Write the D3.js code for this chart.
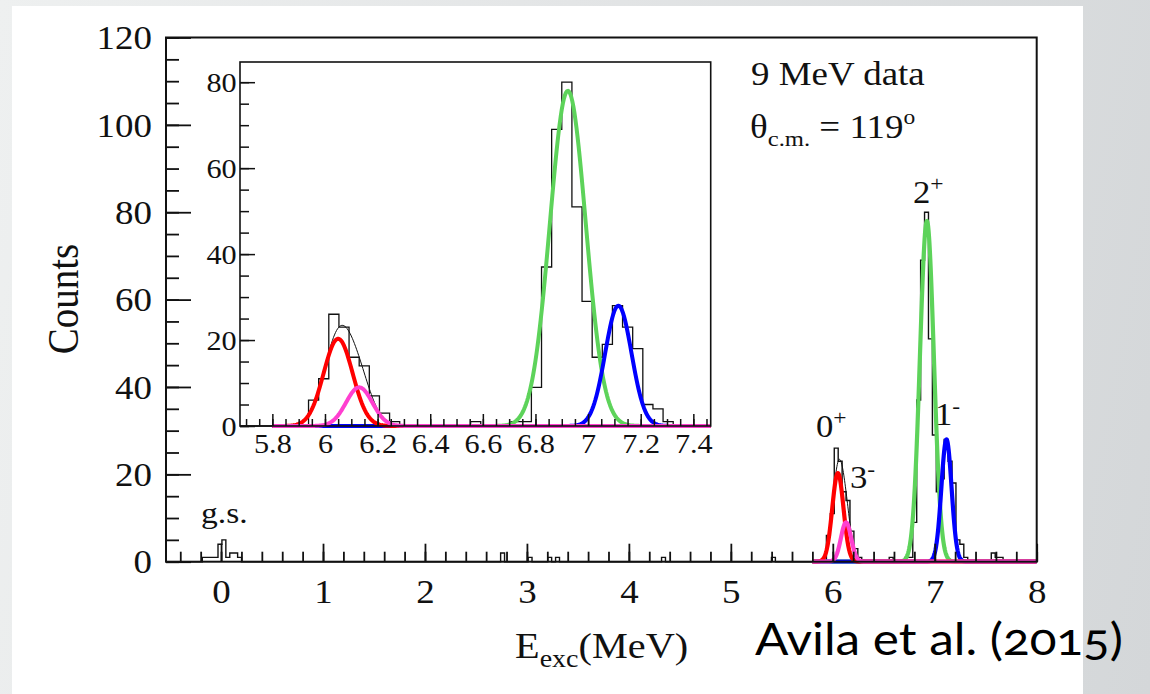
<!DOCTYPE html>
<html>
<head>
<meta charset="utf-8">
<script src="https://cdn.jsdelivr.net/npm/d3@7"></script>
<style>
html, body { margin: 0; padding: 0; }
body {
  width: 1150px; height: 694px; overflow: hidden;
  background: linear-gradient(100deg, #eef0f0 0%, #e3e5e6 45%, #d4d7d9 100%);
}
svg { position: absolute; left: 0; top: 0; }
</style>
</head>
<body>
<svg id="chart" width="1150" height="694"></svg>
<script>
// histogram: bin width and edge reference (MeV)
var binWidth = 0.0385;
var binRef = 6.9;

// contiguous bins in the 0+ / 3- / 2+ / 1- region, first low edge 5.899
var denseStart = 5.899;
var denseCounts = [0, 6, 11, 26, 23, 16, 14, 7, 3, 1,
                   0, 0, 0, 0, 0, 0, 0, 1, 0, 0,
                   0, 1, 1, 9, 37, 69, 80, 51, 29, 16,
                   19, 28, 23, 18, 5, 4, 1];

// isolated background counts elsewhere in the spectrum
var sparseEnergy = [-0.17, -0.13, -0.09, -0.05, -0.01, 0.03, 0.07, 0.10, 0.14, 0.18,
                    2.76, 3.03, 3.22, 3.30, 4.34, 5.42, 7.57, 7.61, 7.65];
var sparseCounts = [1, 1, 1, 1, 4, 5, 1, 2, 2, 1,
                    2, 1, 1, 1, 1, 1, 2, 1, 1];

// fitted gaussian components
var peakLabels = ["2+", "1-", "0+", "3-"];
var peakCentre = [6.923, 7.115, 6.05, 6.13];
var peakHeight = [78, 28, 20.3, 9];
var peakSigma  = [0.068, 0.05, 0.055, 0.05];
var fitRange = [5.8, 8.0];
// summed fit drawn over the 0+ / 3- doublet
var sumLabels = ["0+", "3-"];
var sumRange = [5.8, 6.4];

// tick labels
var mainXTicks = [0, 1, 2, 3, 4, 5, 6, 7, 8];
var mainYTicks = [0, 20, 40, 60, 80, 100, 120];
var insetXTicks = [5.8, 6, 6.2, 6.4, 6.6, 6.8, 7, 7.2, 7.4];
var insetYTicks = [0, 20, 40, 60, 80];

var color = d3.scaleOrdinal()
  .domain(peakLabels)
  .range(["#5dd35a", "#0000ff", "#ff0000", "#ff3fd0"]);

var stretch = "scale(1.12,1)";
var serif = "'Liberation Serif', 'Times New Roman', serif";

var svg = d3.select("#chart");

// white slide area
svg.append("rect")
  .attr("x", 12).attr("y", 6)
  .attr("width", 1071).attr("height", 700)
  .attr("fill", "#ffffff");

// build the full binned spectrum
var nDense0 = Math.round((denseStart - binRef) / binWidth);
var countsByBin = new Map();
denseCounts.forEach((c, i) => countsByBin.set(nDense0 + i, c));
sparseEnergy.forEach((e, i) => {
  countsByBin.set(Math.floor((e - binRef) / binWidth), sparseCounts[i]);
});
var bins = d3.range(-193, 30).map(n => ({ e: binRef + n * binWidth, c: countsByBin.get(n) || 0 }));

function gauss(i, e) {
  var t = (e - peakCentre[i]) / peakSigma[i];
  return peakHeight[i] * Math.exp(-0.5 * t * t);
}
var fitE = d3.range(fitRange[0], fitRange[1] + 1e-9, 0.004);
var components = peakLabels.map((lab, i) => ({
  label: lab,
  pts: fitE.map(e => ({ e: e, c: gauss(i, e) }))
}));
var sumIdx = sumLabels.map(l => peakLabels.indexOf(l));
var totalFit = d3.range(sumRange[0], sumRange[1] + 1e-9, 0.004)
  .map(e => ({ e: e, c: d3.sum(sumIdx, i => gauss(i, e)) }));

function drawPanel(opt) {
  var x = d3.scaleLinear().domain(opt.xDomain).range([opt.left, opt.right]);
  var y = d3.scaleLinear().domain(opt.yDomain).range([opt.bottom, opt.top]);
  var g = svg.append("g");

  g.append("rect")
    .attr("x", opt.left).attr("y", opt.top)
    .attr("width", opt.right - opt.left).attr("height", opt.bottom - opt.top)
    .attr("fill", "#ffffff");

  g.append("clipPath").attr("id", opt.id + "-clip")
    .append("rect")
    .attr("x", opt.left).attr("y", opt.top - 2)
    .attr("width", opt.right - opt.left).attr("height", opt.bottom - opt.top + 4);

  var plot = g.append("g").attr("clip-path", "url(#" + opt.id + "-clip)");

  var hist = d3.line().x(d => x(d.e)).y(d => y(d.c)).curve(d3.curveStepAfter);
  plot.append("path")
    .datum(bins)
    .attr("d", hist)
    .attr("fill", "none")
    .attr("stroke", "#111")
    .attr("stroke-width", opt.histWidth);

  var curve = d3.line().x(d => x(d.e)).y(d => y(d.c));
  plot.append("path")
    .datum(totalFit)
    .attr("d", curve)
    .attr("fill", "none")
    .attr("stroke", "#111")
    .attr("stroke-width", 1);

  plot.selectAll(".comp")
    .data(components)
    .enter()
    .append("path")
    .attr("class", "comp")
    .attr("d", d => curve(d.pts))
    .attr("fill", "none")
    .attr("stroke", d => color(d.label))
    .attr("stroke-width", opt.curveWidth)
    .attr("stroke-linejoin", "round");

  // minor ticks
  var xMinor = d3.axisBottom(x)
    .tickValues(d3.range(opt.xMinor[0], opt.xDomain[1] + 1e-6, opt.xMinor[1]))
    .tickSizeInner(-opt.xTick[1]).tickSizeOuter(0).tickFormat("");
  g.append("g").attr("transform", "translate(0," + opt.bottom + ")").call(xMinor);
  var yMinor = d3.axisLeft(y)
    .tickValues(d3.range(0, opt.yDomain[1] + 1e-6, 5))
    .tickSizeInner(-opt.yTick[1]).tickSizeOuter(0).tickFormat("");
  g.append("g").attr("transform", "translate(" + opt.left + ",0)").call(yMinor);

  // major ticks + labels
  var xAxis = d3.axisBottom(x)
    .tickValues(opt.xTicks)
    .tickSizeInner(-opt.xTick[0]).tickSizeOuter(0)
    .tickFormat(d3.format("~g"));
  g.append("g").attr("transform", "translate(0," + opt.bottom + ")").call(xAxis)
    .selectAll("text")
      .attr("y", opt.xLabelY).attr("dy", null)
      .attr("transform", stretch)
      .attr("font-family", serif).attr("font-size", opt.font + "px")
      .attr("fill", "#111");
  var yAxis = d3.axisLeft(y)
    .tickValues(opt.yTicks)
    .tickSizeInner(-opt.yTick[0]).tickSizeOuter(0);
  g.append("g").attr("transform", "translate(" + opt.left + ",0)").call(yAxis)
    .selectAll("text")
      .attr("x", opt.yLabelX).attr("dy", "0.34em")
      .attr("transform", stretch)
      .attr("font-family", serif).attr("font-size", opt.font + "px")
      .attr("fill", "#111");

  g.selectAll(".domain").remove();
  g.selectAll(".tick line").attr("stroke", "#111").attr("stroke-width", opt.tickWidth);

  g.append("rect")
    .attr("x", opt.left).attr("y", opt.top)
    .attr("width", opt.right - opt.left).attr("height", opt.bottom - opt.top)
    .attr("fill", "none")
    .attr("stroke", "#111")
    .attr("stroke-width", opt.frameWidth);

  return { x: x, y: y };
}

var main = drawPanel({
  id: "main", left: 166, right: 1036.7, top: 37.5, bottom: 561.7,
  xDomain: [-0.54, 8], yDomain: [0, 120],
  xTicks: mainXTicks, yTicks: mainYTicks, xMinor: [-0.4, 0.2],
  xTick: [18, 10], yTick: [25, 13], xLabelY: 41, yLabelX: -12.5,
  font: 33, histWidth: 1.4, curveWidth: 4.2, tickWidth: 1.8, frameWidth: 2
});

var inset = drawPanel({
  id: "inset", left: 240, right: 710.7, top: 62, bottom: 426,
  xDomain: [5.677, 7.466], yDomain: [0, 84.7],
  xTicks: insetXTicks, yTicks: insetYTicks, xMinor: [5.7, 0.05],
  xTick: [12, 7], yTick: [15, 9], xLabelY: 27, yLabelX: -3,
  font: 27, histWidth: 1.3, curveWidth: 4, tickWidth: 1.5, frameWidth: 1.6
});

// text annotations
function label(xp, yp, size) {
  return svg.append("text")
    .attr("transform", "translate(" + xp + "," + yp + ") " + stretch)
    .attr("font-family", serif)
    .attr("font-size", size + "px")
    .attr("fill", "#111");
}

label(751, 85, 33).text("9 MeV data");

var th = label(750, 138, 33);
th.append("tspan").text("\u03b8");
th.append("tspan").attr("font-size", "22px").attr("dy", 8).text("c.m.");
th.append("tspan").attr("dy", -8).text(" = 119");
th.append("tspan").attr("font-size", "21px").attr("dy", -14).text("o");

function spin(xp, yp, base, sup) {
  var t = label(xp, yp, 31);
  t.append("tspan").text(base);
  t.append("tspan").attr("font-size", "21px").attr("dy", -12).text(sup);
}
spin(913, 203, "2", "+");
spin(816, 437, "0", "+");
spin(850, 488, "3", "-");
spin(935, 425, "1", "-");

label(201, 523, 30).text("g.s.");

svg.append("text")
  .attr("transform", "translate(78,299) " + stretch + " rotate(-90)")
  .attr("text-anchor", "middle")
  .attr("font-family", serif)
  .attr("font-size", "39px")
  .attr("fill", "#111")
  .text("Counts");

var xl = label(515, 658, 36);
xl.append("tspan").text("E");
xl.append("tspan").attr("font-size", "25px").attr("dy", 9).text("exc");
xl.append("tspan").attr("dy", -9).text("(MeV)");

svg.append("text")
  .attr("x", 755).attr("y", 655)
  .attr("font-family", "Lato, 'Open Sans', sans-serif")
  .attr("font-size", "45px")
  .style("font-feature-settings", "'onum'")
  .attr("textLength", 368)
  .attr("lengthAdjust", "spacingAndGlyphs")
  .attr("fill", "#000")
  .text("Avila et al. (2015)");
</script>
</body>
</html>
